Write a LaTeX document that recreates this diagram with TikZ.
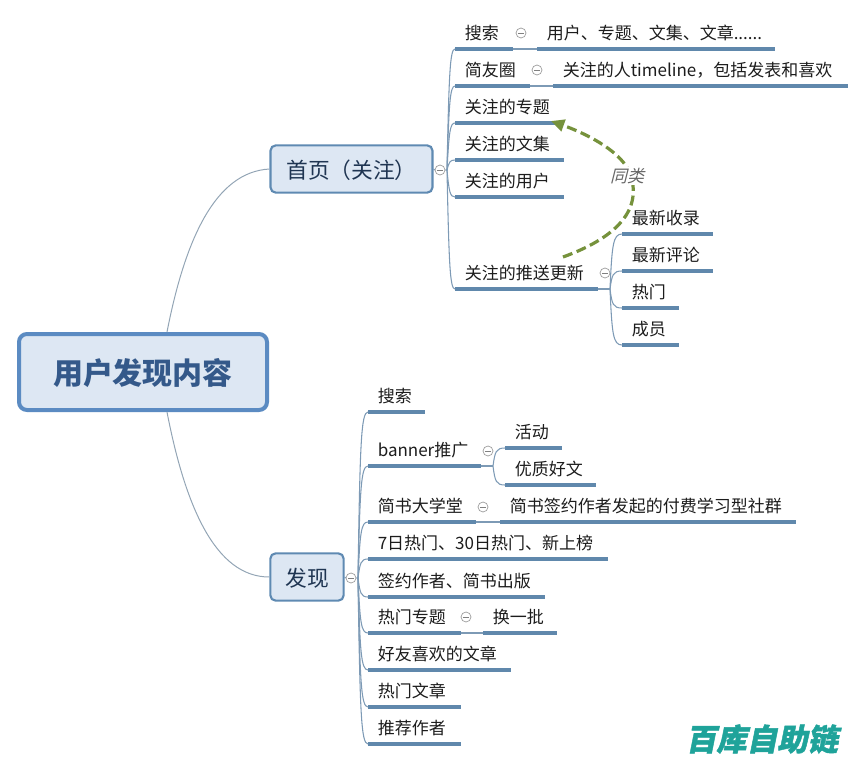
\documentclass[tikz,border=0pt]{standalone}
\usepackage{fontspec}
\setmainfont{Noto Sans CJK SC}
\usetikzlibrary{calc,arrows.meta}
\hbadness=10000 \hfuzz=50pt
\definecolor{rootline}{HTML}{5B8BC2}
\definecolor{rootfill}{HTML}{DDE7F3}
\definecolor{rootink}{HTML}{34598A}
\definecolor{boxline}{HTML}{5F8AB2}
\definecolor{boxink}{HTML}{1F3552}
\definecolor{thick}{HTML}{6088AC}
\definecolor{thin}{HTML}{7D9AB5}
\definecolor{curve}{HTML}{93A5B5}
\definecolor{olive}{HTML}{76923C}
\definecolor{ink}{HTML}{1C1C1C}
\definecolor{mark}{HTML}{1FA39A}
\tikzset{
  px/.style={x=.75pt,y=-.75pt},
  rootbox/.style={draw=rootline,fill=rootfill,line width=3pt,rounded corners=6pt,minimum width=186pt,minimum height=57pt,inner sep=0pt,text=rootink,text height=21.5pt,text depth=2.8pt,font=\fontsize{22.5pt}{26pt}\selectfont\bfseries},
  mainbox/.style={draw=boxline,fill=rootfill,line width=1.6pt,rounded corners=4pt,inner sep=0pt,text=boxink,text height=15.5pt,text depth=2pt,font=\fontsize{16.3pt}{19pt}\selectfont},
  tp/.style={anchor=south west,minimum width={#1*.75pt},text width={(#1-19)*.75pt},inner ysep=0pt,inner xsep=7.125pt,minimum height=24pt,text=ink,align=left,text height=13.2pt,text depth=2.6pt,font=\fontsize{12.75pt}{15pt}\selectfont},
  uline/.style={draw=thick,line width=2.4pt},
  thinl/.style={draw=thin,line width=.8pt},
  curvel/.style={draw=curve,line width=.75pt},
  fold/.style={circle,draw=black!40,fill=white,line width=.5pt,minimum size=7.5pt,inner sep=0pt,
    path picture={\draw[black!50,line width=.5pt] ([xshift=-2pt]path picture bounding box.center) -- ([xshift=2pt]path picture bounding box.center);}},
  samearrow/.style={draw=olive,line width=2.4pt,dash pattern=on 7.5pt off 3.5pt,-{Triangle[length=10pt,width=9pt,sep=0pt]}},
  samelabel/.style={fill=white,inner sep=1pt,text=black!60,font=\fontsize{12.75pt}{15pt}\selectfont\itshape}
}
\newfontfamily\slantfont[FakeSlant=.2,BoldFeatures={FakeSlant=.2,FakeBold=1.5}]{Noto Sans CJK SC}
\newfontfamily\labelfont[FakeSlant=.25]{Noto Sans CJK SC}
\newcommand{\forkto}[2]{\draw[thinl] (#1) .. controls ($(#1 |- #2.south west)!.2!(#1)+(2,0)$) and ($(#1 |- #2.south west)+(3,0)$) .. (#2.south west);}
\newcommand{\under}[1]{\draw[uline] (#1.south west) -- (#1.south east);}
\begin{document}
\begin{tikzpicture}[px]
\useasboundingbox (0,0) rectangle (865,761);
% centre and main topics
\node[rootbox] (root) at (143,372) {用户发现内容};
\node[mainbox,minimum width=121.5pt,minimum height=35.5pt] (home) at (351.5,169) {首页（关注）};
\node[mainbox,minimum width=55pt,minimum height=35.5pt] (disc) at (307,577) {发现};
\coordinate (rt) at (167,332);
\coordinate (rb) at (167,412);
\draw[curvel] (rt) .. controls (185,240) and (215,172) .. (home.west);
\draw[curvel] (rb) .. controls (185,505) and (215,577) .. (disc.west);
% upper branch
\node[fold] (fh) at (440,170) {};
\coordinate (hh) at (447,170);
\draw[thinl] (home.east) -- (fh.west) (fh.east) -- (hh);
\node[tp=57] (a1) at (455,49) {搜索};
\node[tp=74] (a2) at (455,86) {简友圈};
\node[tp=108] (a3) at (455,123) {关注的专题};
\node[tp=108] (a4) at (455,160) {关注的文集};
\node[tp=108] (a5) at (455,197) {关注的用户};
\node[tp=142] (a6) at (455,289) {关注的推送更新};
\node[tp=237] (b1) at (537,49) {用户、专题、文集、文章......};
\node[tp=294] (b2) at (553,86) {关注的人timeline，包括发表和喜欢};
\node[fold] (f1) at (521,33) {};
\node[fold] (f2) at (537,70) {};
\node[fold] (f6) at (605,273) {};
\node[tp=90] (c1) at (622,234) {最新收录};
\node[tp=90] (c2) at (622,271) {最新评论};
\node[tp=56] (c3) at (622,308) {热门};
\node[tp=56] (c4) at (622,345) {成员};
\coordinate (h6) at (610,289);
\foreach \n in {a1,a2,a3,a4,a5,a6}{\forkto{hh}{\n}}
\draw[thinl] (a1.south east) -- (b1.south west);
\draw[thinl] (a2.south east) -- (b2.south west);
\draw[thinl] (a6.south east) -- (h6);
\foreach \n in {c1,c2,c3,c4}{\forkto{h6}{\n}}
\foreach \n in {a1,a2,a3,a4,a5,a6,b1,b2,c1,c2,c3,c4}{\under{\n}}
% lower branch
\node[fold] (fd) at (351,578) {};
\coordinate (hd) at (358,578);
\draw[thinl] (disc.east) -- (fd.west) (fd.east) -- (hd);
\node[tp=56] (d1) at (368,412) {搜索};
\node[tp=112] (d2) at (368,466) {banner推广};
\node[tp=107] (d3) at (368,522) {简书大学堂};
\node[tp=239] (d4) at (368,559) {7日热门、30日热门、新上榜};
\node[tp=176] (d5) at (368,597) {签约作者、简书出版};
\node[tp=92] (d6) at (368,633) {热门专题};
\node[tp=142] (d7) at (368,670) {好友喜欢的文章};
\node[tp=92] (d8) at (368,707) {热门文章};
\node[tp=92] (d9) at (368,744) {推荐作者};
\node[tp=56] (e1) at (505,448) {活动};
\node[tp=90] (e2) at (505,485) {优质好文};
\node[tp=295] (e3) at (500,522) {简书签约作者发起的付费学习型社群};
\node[tp=73] (e6) at (483,633) {换一批};
\node[fold] (f7) at (488,451) {};
\node[fold] (f8) at (483,507) {};
\node[fold] (f9) at (466,617) {};
\coordinate (h2) at (493,466);
\foreach \n in {d1,d2,d3,d4,d5,d6,d7,d8,d9}{\forkto{hd}{\n}}
\draw[thinl] (d2.south east) -- (h2);
\forkto{h2}{e1}
\forkto{h2}{e2}
\draw[thinl] (d3.south east) -- (e3.south west);
\draw[thinl] (d6.south east) -- (e6.south west);
\foreach \n in {d1,d2,d3,d4,d5,d6,d7,d8,d9,e1,e2,e3,e6}{\under{\n}}
% relation
\coordinate (relfrom) at (563,257);
\coordinate (relto) at (551,121);
\draw[samearrow] (relfrom) .. controls (610,240) and (640,215) .. (632,180) .. controls (628,155) and (590,135) .. (relto);
\node[samelabel] (rel) at (627,176) {\labelfont 同类};
% mark
\node[anchor=center,inner sep=0pt,text=mark,font=\fontsize{22.8pt}{26pt}\selectfont\slantfont\bfseries] (wm) at (762,739) {百库自助链};
\end{tikzpicture}
\end{document}
